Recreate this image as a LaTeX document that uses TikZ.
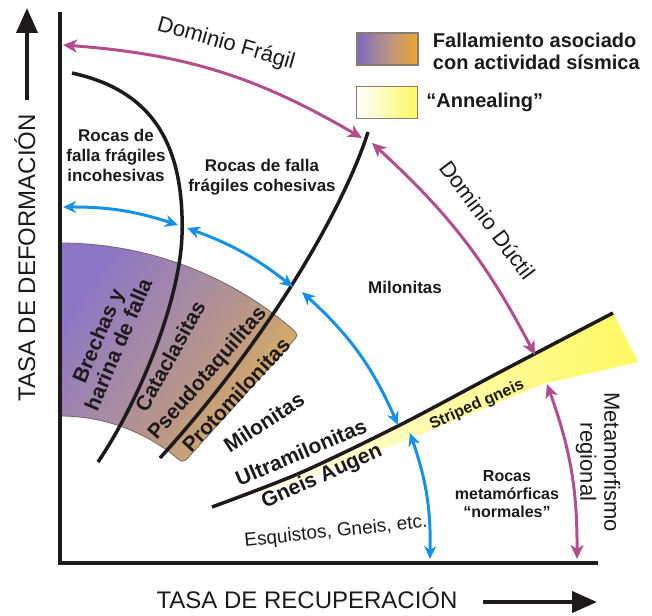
\documentclass[tikz,border=0pt]{standalone}
\usepackage{fontspec}
\setmainfont{Liberation Sans}
\usepackage{tikz}
\usetikzlibrary{arrows.meta, positioning, calc, backgrounds}

\definecolor{inkblack}{RGB}{30,26,28}
\definecolor{domainpink}{RGB}{178,78,140}
\definecolor{rangeblue}{RGB}{22,145,232}
\definecolor{bandpurple}{RGB}{140,118,198}
\definecolor{bandmauve}{RGB}{168,140,162}
\definecolor{bandbrown}{RGB}{188,152,132}
\definecolor{bandgold}{RGB}{216,175,100}
\definecolor{bandedge}{RGB}{120,100,100}
\definecolor{annealyellow}{RGB}{255,248,96}
\definecolor{boxgray}{RGB}{135,125,118}
\definecolor{legpurple}{RGB}{124,106,188}
\definecolor{legmauve}{RGB}{185,148,135}
\definecolor{legorange}{RGB}{236,166,44}

\pgfdeclarehorizontalshading{faultshade}{100bp}{color(0bp)=(bandpurple); color(25bp)=(bandpurple); color(45bp)=(bandmauve); color(58bp)=(bandbrown); color(70bp)=(bandgold); color(100bp)=(bandgold)}

\begin{document}
\begin{tikzpicture}[
    x=1pt, y=1pt,
    axisline/.style={draw=inkblack, line width=3.5pt},
    boundary/.style={draw=inkblack, line width=3.5pt},
    dirarrow/.style={draw=inkblack, line width=4pt, -{Triangle[length=25pt, width=21pt]}},
    pinkarrow/.style={draw=domainpink, line width=3pt, >={Stealth[length=14pt, width=13pt, inset=4pt]}, <->},
    bluearrow/.style={draw=rangeblue, line width=3pt, >={Stealth[length=13pt, width=12pt, inset=4pt]}, <->},
    legendbox/.style={rectangle, draw=boxgray, line width=1.5pt, minimum width=61pt, minimum height=32pt, inner sep=0pt},
    legtext/.style={font=\bfseries\fontsize{20}{22}\selectfont, align=left, inner sep=0pt, text=inkblack},
    axistext/.style={font=\fontsize{24}{28}\selectfont, inner sep=0pt, text=inkblack},
    domaintext/.style={font=\fontsize{22}{24}\selectfont, inner sep=0pt, text=inkblack},
    rocktext/.style={font=\bfseries\fontsize{17}{20}\selectfont, align=center, inner sep=0pt, text=inkblack},
    bandtext/.style={font=\bfseries\fontsize{21}{22}\selectfont, align=center, inner sep=0pt, text=inkblack},
    smalltext/.style={font=\bfseries\fontsize{16}{18}\selectfont, align=center, inner sep=0pt, text=inkblack},
    plaintext/.style={font=\fontsize{19}{22}\selectfont, align=center, inner sep=0pt, text=inkblack}
]
\useasboundingbox (0,0) rectangle (652,-615);

% Axes
\coordinate (ytop) at (60,-12);
\coordinate (origin) at (60,-563);
\coordinate (xend) at (598,-563);
\coordinate (fan) at (60,-600);
\draw[axisline] (ytop) -- (origin) -- (xend);

\coordinate (ytail) at (27,-100);
\coordinate (yhead) at (27,-8);
\coordinate (xtail) at (483,-602);
\coordinate (xhead) at (597,-602);
\draw[dirarrow] (ytail) -- (yhead);
\draw[dirarrow] (xtail) -- (xhead);

\node[axistext, rotate=90, anchor=base] (ylabel) at (35,-258) {TASA DE DEFORMACIÓN};
\node[axistext, anchor=base] (xlabel) at (307,-608) {TASA DE RECUPERACIÓN};

% Legend
\node[legendbox, left color=legpurple, right color=legorange, middle color=legmauve] (legfault) at (387.5,-49) {};
\node[legtext, right=14pt of legfault, yshift=-2pt] (legfaulttxt) {Fallamiento asociado\\con actividad sísmica};
\node[legendbox, left color=white, right color=annealyellow] (leganneal) at (387,-102.5) {};
\node[legtext, right=8pt of leganneal] (legannealtxt) {“Annealing”};

% Shaded fields
\begin{scope}[on background layer]
\shadedraw[shading=faultshade, shading angle=-35, draw=bandedge, line width=0.8pt]
  ($(fan)+(90:357)$) arc[start angle=90, end angle=50, radius=357]
  .. controls ($(fan)+(48:357)$) .. ($(fan)+(48:344)$)
  -- ($(fan)+(48:197)$)
  .. controls ($(fan)+(48:184)$) .. ($(fan)+(51.7:184)$)
  arc[start angle=51.7, end angle=90, radius=184] -- cycle;
\shade[left color=white, right color=annealyellow]
  plot[smooth] coordinates {(212,-507) (300,-473) (400,-425) (500,-372) (613,-313)}
  -- (638,-362)
  -- plot[smooth] coordinates {(543,-384) (407,-440) (300,-481) (212,-507)} -- cycle;
\end{scope}

% Boundaries
\draw[boundary] (72,-73) .. controls (140,-88) and (185,-130) .. (182,-235)
  .. controls (180,-300) and (140,-400) .. (98,-462);
\draw[boundary] (368,-132) .. controls (350,-190) and (285,-320) .. (160,-458);
\draw[boundary] plot[smooth] coordinates {(212,-507) (300,-473) (400,-425) (500,-372) (613,-313)};

% Domain arrows
\coordinate (fragL) at (63,-45);
\coordinate (fragR) at (362,-138);
\coordinate (ductL) at (372,-143);
\coordinate (ductR) at (535,-355);
\coordinate (metaA) at (547,-384);
\coordinate (metaB) at (577,-559);
\draw[pinkarrow] (fragL) to[bend left=13] (fragR);
\draw[pinkarrow] (ductL) to[bend left=10] (ductR);
\draw[pinkarrow] (metaA) to[bend left=10] (metaB);

\coordinate (b1a) at (63,-207);
\coordinate (b1b) at (178,-225);
\coordinate (b2a) at (187,-228);
\coordinate (b2b) at (293,-287);
\coordinate (b3a) at (302,-292);
\coordinate (b3b) at (398,-425);
\coordinate (b4a) at (410,-433);
\coordinate (b4b) at (430,-559);
\draw[bluearrow] (b1a) to[bend left=9] (b1b);
\draw[bluearrow] (b2a) to[bend left=9] (b2b);
\draw[bluearrow] (b3a) to[bend left=12] (b3b);
\draw[bluearrow] (b4a) to[bend left=10] (b4b);

\node[domaintext, rotate=-16] (fragil) at (226,-44) {Dominio Frágil};
\node[domaintext, rotate=-53] (ductil) at (488,-220) {Dominio Dúctil};

% Rock names
\node[rocktext] (incoh) at (116,-155) {Rocas de\\falla frágiles\\incohesivas};
\node[rocktext] (coh) at (262,-177) {Rocas de falla\\frágiles cohesivas};
\node[rocktext] (milonup) at (405,-287) {Milonitas};
\node[bandtext, rotate=67] (brechas) at (108,-340) {Brechas y\\harina de falla};
\node[bandtext, rotate=61] (catacl) at (170,-356) {Cataclasitas};
\node[bandtext, rotate=49] (pseudo) at (208,-374) {Pseudotaquilitas};
\node[bandtext, rotate=47] (protom) at (236,-395) {Protomilonitas};
\node[bandtext, rotate=33] (milonlow) at (264,-422) {Milonitas};
\node[bandtext, rotate=23] (ultram) at (301,-452) {Ultramilonitas};
\node[bandtext, rotate=24] (augen) at (322,-477) {Gneis Augen};
\node[smalltext, rotate=24] (striped) at (477,-405) {Striped gneis};
\node[plaintext, rotate=6] (esquistos) at (336,-532) {Esquistos, Gneis, etc.};
\node[smalltext] (normales) at (507,-494) {Rocas\\metamórficas\\“normales”};
\node[domaintext, align=center, rotate=-90] (regional) at (598,-462) {Metamorfismo\\regional};

\end{tikzpicture}
\end{document}
